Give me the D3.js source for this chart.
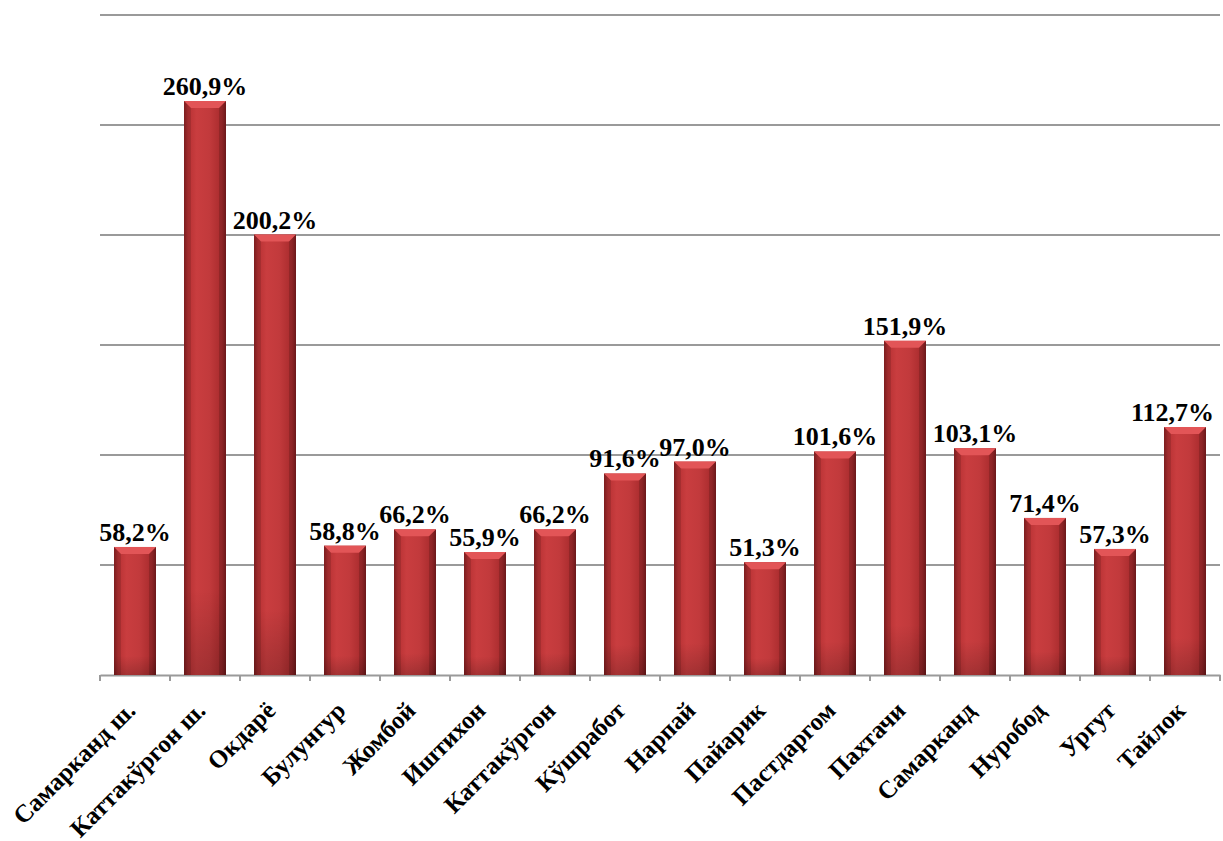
<!DOCTYPE html>
<html><head><meta charset="utf-8">
<script src="https://cdn.jsdelivr.net/npm/d3@7"></script>
<style>body{margin:0;background:#fff}</style>
</head><body>
<svg id="c" width="1223" height="841"></svg>
<script>
const categories = ["Самарканд ш.","Каттакўргон ш.","Окдарё","Булунгур","Жомбой","Иштихон","Каттакўргон","Кўшработ","Нарпай","Пайарик","Пастдаргом","Пахтачи","Самарканд","Нуробод","Ургут","Тайлок"];
const values = [58.2,260.9,200.2,58.8,66.2,55.9,66.2,91.6,97.0,51.3,101.6,151.9,103.1,71.4,57.3,112.7];
const yTicks = [0,50,100,150,200,250,300];

const svg = d3.select("#c");
const x = d3.scaleBand().domain(categories).range([100,1220]).paddingInner(0.4).paddingOuter(0.2);
const y = d3.scaleLinear().domain([0,300]).range([675,15]);

const defs = svg.append("defs");
const g1 = defs.append("linearGradient").attr("id","bg").attr("x1","0").attr("x2","1").attr("y1","0").attr("y2","0");
[[0,"#8e2224"],[0.1,"#b83234"],[0.3,"#c93d3f"],[0.6,"#c23a3c"],[0.9,"#a82b2d"],[1,"#7f1d1f"]].forEach(s=>g1.append("stop").attr("offset",s[0]).attr("stop-color",s[1]));
const g2 = defs.append("linearGradient").attr("id","vg").attr("x1","0").attr("x2","0").attr("y1","0").attr("y2","1");
[[0,"#ffffff",0.0],[0.85,"#000000",0.0],[1,"#000000",0.18]].forEach(s=>g2.append("stop").attr("offset",s[0]).attr("stop-color",s[1]).attr("stop-opacity",s[2]));

// gridlines
svg.append("g").selectAll("line").data(yTicks.filter(d=>d>0)).join("line")
  .attr("x1",100).attr("x2",1220).attr("y1",d=>y(d)).attr("y2",d=>y(d))
  .attr("stroke","#9a9a9a").attr("stroke-width",2);

// x axis
const ax = svg.append("g").attr("transform","translate(0,675)")
  .call(d3.axisBottom(x).tickSize(0).tickFormat(""));
ax.select(".domain").attr("stroke","#9a9a9a").attr("stroke-width",2);
const bounds = d3.range(categories.length+1).map(i=>100+i*x.step());
ax.selectAll(".tk").data(bounds).join("line").attr("class","tk")
  .attr("x1",d=>d).attr("x2",d=>d).attr("y1",0).attr("y2",6)
  .attr("stroke","#9a9a9a").attr("stroke-width",2);

// bars
const bars = svg.append("g").selectAll("g").data(values).join("g");
bars.append("rect")
  .attr("x",(d,i)=>x(categories[i])).attr("y",d=>y(d))
  .attr("width",x.bandwidth()).attr("height",d=>y(0)-y(d))
  .attr("fill","url(#bg)");
bars.append("rect")
  .attr("x",(d,i)=>x(categories[i])).attr("y",d=>y(d))
  .attr("width",x.bandwidth()).attr("height",d=>y(0)-y(d))
  .attr("fill","url(#vg)");
// bevel top
bars.append("path")
  .attr("d",(d,i)=>{const x0=x(categories[i]),w=x.bandwidth(),t=y(d),b=7;
    return `M${x0},${t}L${x0+w},${t}L${x0+w-b},${t+b}L${x0+b},${t+b}Z`;})
  .attr("fill","#e25557");
bars.append("path")
  .attr("d",(d,i)=>{const x0=x(categories[i]),w=x.bandwidth(),t=y(d),b=7;
    return `M${x0},${t}L${x0+b},${t+b}L${x0+b},${y(0)}L${x0},${y(0)}Z`;})
  .attr("fill","#000").attr("opacity",0.12);
bars.append("path")
  .attr("d",(d,i)=>{const x0=x(categories[i]),w=x.bandwidth(),t=y(d),b=7;
    return `M${x0+w},${t}L${x0+w-b},${t+b}L${x0+w-b},${y(0)}L${x0+w},${y(0)}Z`;})
  .attr("fill","#000").attr("opacity",0.15);

// value labels
svg.append("g").selectAll("text").data(values).join("text")
  .attr("y",d=>y(d)-6)
  .attr("text-anchor","middle")
  .attr("font-family","'Liberation Serif','Times New Roman',serif")
  .attr("font-weight","bold").attr("font-size",26)
  .text(d=>d.toFixed(1).replace(".",",")+"%")
  .attr("x",function(d,i){
    const c = x(categories[i])+x.bandwidth()/2;
    const w = this.getComputedTextLength();
    return Math.min(c, 1214 - w/2);
  });

// category labels
svg.append("g").selectAll("text").data(categories).join("text")
  .attr("transform",d=>`translate(${x(d)+x.bandwidth()/2+2},${712}) rotate(-45)`)
  .attr("text-anchor","end")
  .attr("font-family","'Liberation Serif','Times New Roman',serif")
  .attr("font-weight","bold").attr("font-size",25)
  .text(d=>d);
</script>
</body></html>
